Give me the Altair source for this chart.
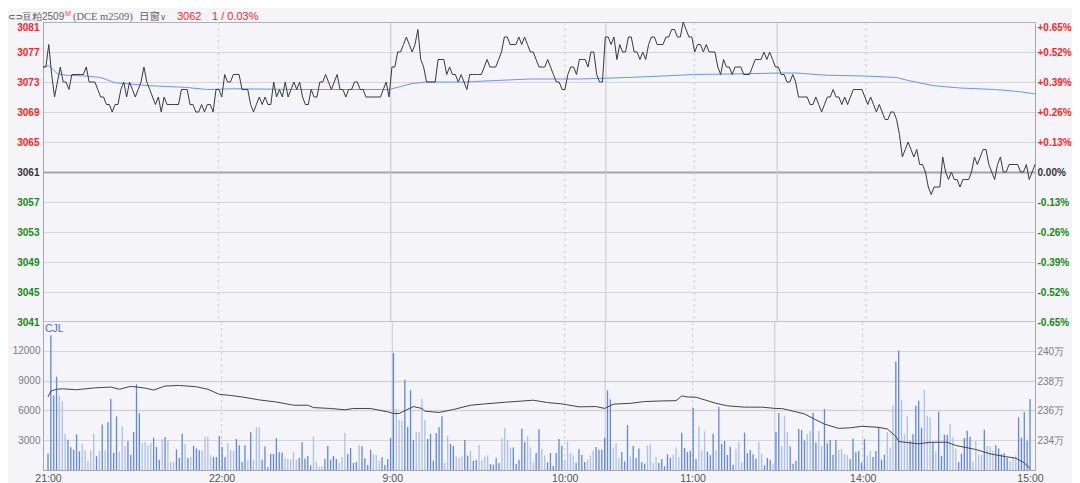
import altair as alt
import pandas as pd

# ---------------- data ----------------
PREV_SETTLE = 3061

# minute closes, 21:00 -> 15:00 (345 bars)
PRICE = [
    3075, 3075, 3078, 3074, 3071, 3073, 3075, 3073, 3073, 3072,
    3074, 3074, 3074, 3074, 3074, 3075, 3073, 3073, 3073, 3072,
    3071, 3071, 3070, 3070, 3069, 3070, 3070, 3072, 3073, 3071,
    3073, 3072, 3071, 3072, 3073, 3075, 3073, 3072, 3071, 3070,
    3071, 3069, 3071, 3070, 3070, 3070, 3070, 3070, 3072, 3072,
    3072, 3070, 3070, 3069, 3069, 3070, 3069, 3070, 3070, 3069,
    3072, 3072, 3071, 3074, 3073, 3073, 3074, 3074, 3074, 3072,
    3072, 3072, 3070, 3069, 3070, 3071, 3070, 3071, 3070, 3070,
    3073, 3071, 3072, 3071, 3073, 3071, 3072, 3073, 3072, 3073,
    3071, 3070, 3070, 3072, 3071, 3071, 3073, 3073, 3074, 3073,
    3072, 3073, 3074, 3072, 3072, 3071, 3072, 3072, 3073, 3073,
    3072, 3072, 3071, 3071, 3071, 3071, 3071, 3071, 3072, 3073,
    3071, 3075, 3075, 3077, 3077, 3078, 3079, 3078, 3077, 3078,
    3080, 3076, 3075, 3073, 3073, 3073, 3073, 3076, 3076, 3076,
    3074, 3075, 3074, 3074, 3073, 3074, 3073, 3072, 3074, 3074,
    3074, 3074, 3074, 3075, 3076, 3075, 3075, 3075, 3076, 3077,
    3079, 3079, 3078, 3078, 3078, 3079, 3078, 3079, 3078, 3077,
    3077, 3076, 3075, 3075, 3075, 3076, 3075, 3074, 3073, 3073,
    3072, 3072, 3074, 3075, 3075, 3074, 3076, 3076, 3076, 3075,
    3077, 3077, 3074, 3073, 3073, 3079, 3079, 3078, 3079, 3076,
    3078, 3077, 3077, 3079, 3079, 3077, 3077, 3076, 3077, 3076,
    3078, 3079, 3079, 3078, 3078, 3078, 3079, 3079, 3080, 3080,
    3079, 3079, 3081, 3080, 3079, 3079, 3077, 3078, 3078, 3077,
    3078, 3077, 3077, 3077, 3075, 3074, 3076, 3075, 3075, 3074,
    3075, 3075, 3075, 3074, 3074, 3074, 3075, 3076, 3076, 3076,
    3077, 3076, 3077, 3076, 3075, 3075, 3074, 3074, 3073, 3073,
    3074, 3073, 3071, 3071, 3071, 3071, 3070, 3070, 3071, 3070,
    3069, 3070, 3071, 3071, 3072, 3071, 3071, 3070, 3071, 3070,
    3071, 3072, 3072, 3072, 3072, 3071, 3070, 3071, 3070, 3069,
    3070, 3069, 3068, 3068, 3069, 3069, 3068, 3066, 3063, 3064,
    3065, 3064, 3063, 3064, 3062, 3062, 3061, 3059, 3058, 3059,
    3059, 3059, 3063, 3061, 3060, 3061, 3060, 3060, 3059, 3060,
    3060, 3060, 3061, 3063, 3062, 3063, 3064, 3064, 3062, 3061,
    3060, 3062, 3063, 3061, 3061, 3062, 3062, 3062, 3062, 3061,
    3061, 3062, 3060, 3061, 3062,
]

# average price line (bar index, price)
AVG_T = [0, 2, 5, 8, 15, 20, 25, 31, 37, 49, 57, 66, 89, 117, 120, 124, 128, 133,
         146, 157, 169, 186, 195, 209, 226, 244, 256, 261, 272, 285, 296, 300, 309,
         318, 330, 339, 344]
AVG_V = [3075.0, 3075.2, 3074.1, 3073.9, 3073.8, 3073.6, 3072.9, 3072.7, 3072.5,
         3072.3, 3072.0, 3072.1, 3072.0, 3072.0, 3072.0, 3072.4, 3072.8, 3073.0,
         3073.0, 3073.2, 3073.4, 3073.4, 3073.5, 3073.7, 3074.0, 3074.1, 3074.2,
         3074.2, 3073.9, 3073.8, 3073.6, 3073.2, 3072.5, 3072.2, 3072.0, 3071.7,
         3071.4]

# volume per minute (lots)
VOL = [
    1650, 13600, 7500, 9400, 7500, 6950, 3660, 3060, 2300, 2050,
    3600, 1880, 2600, 2000, 940, 2000, 3630, 1400, 1950, 4600,
    2000, 4840, 7160, 1720, 5400, 1820, 4430, 2420, 2900, 1510,
    3830, 8640, 5710, 2750, 2820, 2490, 2720, 3260, 2320, 1040,
    3120, 3320, 3020, 810, 810, 2080, 1210, 3660, 2620, 1210,
    1310, 2420, 2180, 1980, 1980, 3360, 3390, 1480, 1310, 1310,
    3430, 2320, 1310, 2720, 2000, 1950, 3120, 2490, 810, 2490,
    1040, 3800, 1040, 4330, 4330, 1040, 2380, 270, 1650, 1610,
    3210, 1800, 1770, 1200, 1100,
    1040, 1810, 1040, 1210, 2790, 1140, 1410, 470, 3390, 810,
    300, 370, 1110, 2420, 1040, 1410, 1110, 710, 1310, 3730,
    1610, 2220, 710, 810, 2520, 2390, 1180, 500, 2050, 1580,
    1510, 910, 1280, 500, 1110, 3230, 11800, 6120, 5040, 4970,
    9100, 4330, 8060, 3020, 3830, 3830, 7220, 5040, 3120, 3660,
    940, 3730, 4300, 5410, 710, 3490, 2620, 2420, 1380, 1210,
    1380, 3020, 1440, 1920, 910, 1010, 2520, 1010, 1340, 1480,
    600, 540, 1180, 710, 3230, 4230, 2990, 2280, 2280, 600,
    1040, 4170, 2820, 3390, 2280,
    770, 1710, 4100, 2150, 1480, 770, 1710, 400, 1710, 3120,
    2450, 1010, 2890, 1710, 1480, 740, 2080, 1510, 810, 1040,
    1480, 1950, 2320, 2050, 2050, 3230, 8030, 7120, 2280, 2690,
    1210, 1810, 870, 4540, 1380, 2420, 1210, 2180, 810, 640,
    2450, 2590, 740, 1340, 710, 1110, 370, 1580, 1240, 1510,
    2280, 1310, 3760, 2220, 1810, 1950, 6250, 1110, 4400, 1980,
    3900, 1850, 1480, 3660, 1980, 6350, 2620, 2920, 1510, 2320,
    540, 2180, 2860, 810, 3760, 1710, 2020, 1580, 1140, 2860,
    1650, 470, 1210, 1040, 640, 3830,
    5750, 2390, 5480, 3830, 2390, 640, 940, 4130, 4030, 2960,
    3630, 3930, 5780, 2760, 3930, 2420, 6150, 2690, 3020, 1510,
    3020, 2020, 2120, 1610, 1480, 1110, 3160, 1780, 1920, 740,
    3120, 1480, 1950, 1310, 1920, 4270, 1040, 1550, 3830, 2250,
    6550, 10950, 12060, 7090, 3600, 5440, 2920, 3600, 6480, 6990,
    4270, 8100, 5480, 5310, 2820, 1880, 5880, 1410, 3560, 3560,
    4670, 3290, 2150, 810, 1650, 3230, 3960, 3360, 840, 2920,
    1510, 1510, 4070, 2420, 2390, 1950, 2490, 2180, 1580, 1680,
    1240, 870, 1310, 1480, 5310, 3260, 5850, 2960, 7160,
]

# bar shade per minute: d = dark blue, l = light blue
VOL_DIR = """
d d d d l l l d d d  d d l l l l l d l d  l d d d d l l l d d
d d d l l l l d d d  l d l l l d d d l d  l d d d l l l l d d
d d d l l l d d d d  l d l l l d d d d d  d d d l l
l l l d d d d d l l  l l d d d d d l l l  d d d d l d d d d l
l l d d d d d l l l  d d d d l l l l d d  d d d d l l d d l l
l d d l d d l l l l  d d d d l l l l d d  d d d l l
l d d l l d d d d d  d l l l l d d d d l  l l d d d d d d l l
l d d d l d d d d d  l l l l d d d d d l  l l d d d d d d l l
l d d d l d d d d d  d l l l d d d d d l  l d d d l d
d l l l d d d d d d  l l d d l l d d d d  d l l l l d d d d d
d l l d d d d d l l  l d d l l l d d d d  d l l l d l d d d d
l l l d d d d d l l  l l d l l l d d d d  d l l l d d d d d
""".split()

# open interest line (bar index, 10k lots)
OI_T = [0, 1, 3, 5, 10, 16, 22, 25, 29, 34, 37, 41, 46, 52, 56, 60, 64, 68, 74, 80,
        86, 91, 93, 99, 104, 107, 113, 119, 121, 123, 128, 131, 132, 137, 142, 148,
        153, 160, 165, 170, 175, 180, 186, 192, 195, 198, 204, 209, 215, 220, 222,
        224, 227, 234, 238, 244, 250, 255, 257, 261, 265, 269, 272, 277, 281, 285,
        291, 294, 297, 298, 305, 309, 315, 318, 325, 330, 335, 339, 342, 344]
OI_V = [236.95, 237.35, 237.47, 237.50, 237.44, 237.56, 237.62, 237.47, 237.67,
        237.55, 237.42, 237.69, 237.73, 237.64, 237.47, 237.13, 237.05, 236.95,
        236.75, 236.61, 236.39, 236.39, 236.23, 236.17, 236.08, 236.17, 236.17,
        235.94, 235.83, 235.83, 236.30, 236.17, 235.99, 235.90, 236.10, 236.39,
        236.48, 236.59, 236.66, 236.73, 236.57, 236.48, 236.28, 236.30, 236.17,
        236.46, 236.52, 236.64, 236.68, 236.70, 237.02, 236.95, 236.93, 236.52,
        236.35, 236.26, 236.26, 236.17, 236.17, 235.99, 235.80, 235.40, 235.11,
        234.82, 234.86, 234.96, 234.89, 234.78, 234.28, 233.93, 233.77, 233.88,
        233.88, 233.66, 233.39, 233.10, 232.92, 232.80, 232.49, 232.09]

PRICE_TICKS = [3041, 3045, 3049, 3053, 3057, 3061, 3065, 3069, 3073, 3077, 3081]
VOL_TICKS = [3000, 6000, 9000, 12000]
OI_TICKS = [234, 236, 238, 240]
TIME_POS = [0, 60.8, 120.6, 181.0, 225.8, 285.4, 344]
TIME_LABELS = ["21:00", "22:00", "9:00", "10:00", "11:00", "14:00", "15:00"]
SESSION_BREAKS = [120.6, 195.2, 254.6]
HOUR_MARKS = [60.8, 181.0, 225.8, 285.4]
HEADER = ["⊂⊃", "豆粕2509", "M", "(DCE m2509)", "日窗", "∨", "3062", "1 / 0.03%"]
PANEL_LABEL = "CJL"

# ---------------- styling ----------------
BG = "#f4f4f9"
RED = "#ff1f1f"
GREEN = "#138a13"
FONT = "Liberation Sans"
W, H1, H2 = 992, 300, 148

n = min(len(PRICE), len(VOL), len(VOL_DIR))
df = pd.DataFrame({"t": list(range(n)), "price": PRICE[:n], "vol": VOL[:n], "dir": VOL_DIR[:n]})
avg_df = pd.DataFrame({"t": AVG_T, "v": AVG_V})
oi_df = pd.DataFrame({"t": OI_T, "v": OI_V})
solid_df = pd.DataFrame({"t": SESSION_BREAKS})
dash_df = pd.DataFrame({"t": HOUR_MARKS})

xs = alt.Scale(domain=[0, 344], nice=False, zero=False)
ys_price = alt.Scale(domain=[PRICE_TICKS[0], PRICE_TICKS[-1]], nice=False, zero=False)
ys_vol = alt.Scale(domain=[0, 14924], nice=False, zero=True)
ys_oi = alt.Scale(domain=[232, 242.03], nice=False, zero=False)

lab_color = {"condition": [{"test": f"datum.value > {PREV_SETTLE}", "value": RED},
                           {"test": f"datum.value < {PREV_SETTLE}", "value": GREEN}],
             "value": "#333333"}
lab_base = {"condition": {"test": f"datum.value == {PRICE_TICKS[-1]}", "value": "top"},
            "value": "middle"}
grid_color = {"condition": [{"test": f"datum.value == {PREV_SETTLE}", "value": "#a4a4aa"},
                            {"test": f"datum.value == {PRICE_TICKS[0]}", "value": "#8e8e94"},
                            {"test": f"datum.value == {PRICE_TICKS[-1]}", "value": "#b0b0b6"}],
              "value": "#d6d6dc"}
grid_width = {"condition": {"test": f"datum.value == {PREV_SETTLE} || datum.value == {PRICE_TICKS[0]}",
                            "value": 2}, "value": 1}

pct_expr = (f"datum.value > {PREV_SETTLE} ? '+' + format((datum.value - {PREV_SETTLE}) / {PREV_SETTLE} * 100, '.2f') + '%' : "
            f"datum.value < {PREV_SETTLE} ? '-' + format(({PREV_SETTLE} - datum.value) / {PREV_SETTLE} * 100, '.2f') + '%' : '0.00%'")

price_left = alt.Axis(values=PRICE_TICKS, title=None, orient="left", ticks=False, labelPadding=4,
                      format="d",
                      labelFont=FONT, labelFontSize=10, labelFontWeight="bold",
                      labelColor=lab_color, labelBaseline=lab_base, labelOverlap=False,
                      grid=True, gridColor=grid_color, gridWidth=grid_width,
                      domainColor="#a6a6ac")
price_right = alt.Axis(values=PRICE_TICKS, title=None, orient="right", ticks=False, labelPadding=2,
                       labelFont=FONT, labelFontSize=10, labelFontWeight="bold",
                       labelColor=lab_color, labelBaseline=lab_base, labelOverlap=False,
                       labelExpr=pct_expr, grid=False, domainColor="#a6a6ac")

time_expr = ""
for p, lab in zip(TIME_POS, TIME_LABELS):
    time_expr += f"abs(datum.value - {p}) < 1 ? '{lab}' : "
time_expr += "''"
x_axis = alt.Axis(values=TIME_POS, labelExpr=time_expr, title=None, orient="bottom", ticks=False,
                  labelPadding=3, labelFont=FONT, labelFontSize=10.5, labelColor="#555555",
                  labelFlush=False, labelOverlap=False, grid=False, domainColor="#a6a6ac")

vol_grid_w = {"condition": {"test": "datum.value == 6000 || datum.value == 9000", "value": 1.6},
              "value": 1}
vol_left = alt.Axis(values=VOL_TICKS, title=None, orient="left", ticks=False, labelPadding=3,
                    format="d",
                    labelFont=FONT, labelFontSize=10, labelColor="#7c7c7c", labelOverlap=False,
                    grid=True, gridColor="#d4d4da", gridWidth=vol_grid_w, domainColor="#a6a6ac")
oi_right = alt.Axis(values=OI_TICKS, title=None, orient="right", ticks=False, labelPadding=2,
                    labelFont=FONT, labelFontSize=10, labelColor="#7c7c7c", labelOverlap=False,
                    labelExpr="datum.value + '万'", grid=False, domainColor="#a6a6ac")

# ---------------- price panel ----------------
x_none = alt.X("t:Q", scale=xs, axis=None)
rules_solid_p = alt.Chart(solid_df).mark_rule(color="#c6c6cc", strokeWidth=1).encode(x=x_none)
rules_dash_p = alt.Chart(dash_df).mark_rule(color="#cdcdd4", strokeWidth=1, strokeDash=[3, 3]).encode(x=x_none)
avg_line = alt.Chart(avg_df).mark_line(color="#6f93ee", strokeWidth=1).encode(
    x=x_none, y=alt.Y("v:Q", scale=ys_price, axis=price_left))
price_line = alt.Chart(df).mark_line(color="#3a3a3a", strokeWidth=1).encode(
    x=x_none, y=alt.Y("price:Q", scale=ys_price, axis=price_right))

header_specs = [
    # text index, x (px from plot left), color, font, size, weight, y
    (0, -35, "#666666", "DejaVu Sans", 9, "bold", -5),
    (1, -21, "#666666", FONT, 10, "normal", -5),
    (2, 22, "#ff3b3b", FONT, 7, "normal", -8),
    (3, 30, "#666666", "Liberation Serif", 10.5, "normal", -5),
    (4, 96, "#666666", "Noto Sans CJK SC", 10.5, "normal", -5),
    (5, 117, "#666666", "DejaVu Sans", 8.5, "normal", -5),
    (6, 134, RED, FONT, 11, "normal", -5),
    (7, 169, RED, FONT, 11, "normal", -5),
]
header_layers = []
for idx, hx, col, fnt, fs, fw, hy in header_specs:
    header_layers.append(
        alt.Chart(pd.DataFrame({"s": [HEADER[idx]]})).mark_text(
            align="left", baseline="middle", color=col, font=fnt, fontSize=fs, fontWeight=fw
        ).encode(x=alt.value(hx), y=alt.value(hy), text="s:N")
    )

price_panel = alt.layer(rules_solid_p, rules_dash_p, avg_line, price_line, *header_layers).resolve_scale(
    y="independent").properties(width=W, height=H1)

# ---------------- volume panel ----------------
x_ax = alt.X("t:Q", scale=xs, axis=x_axis)
rules_solid_v = alt.Chart(solid_df).mark_rule(color="#c6c6cc", strokeWidth=1).encode(x=x_ax)
rules_dash_v = alt.Chart(dash_df).mark_rule(color="#cdcdd4", strokeWidth=1, strokeDash=[3, 3]).encode(x=x_ax)
bars = alt.Chart(df).mark_bar(size=1.3).encode(
    x=x_ax,
    y=alt.Y("vol:Q", scale=ys_vol, axis=vol_left),
    color=alt.Color("dir:N", scale=alt.Scale(domain=["d", "l"], range=["#5f86e8", "#abbff2"]), legend=None),
)
oi_line = alt.Chart(oi_df).mark_line(color="#444444", strokeWidth=1).encode(
    x=x_ax, y=alt.Y("v:Q", scale=ys_oi, axis=oi_right))
cjl = alt.Chart(pd.DataFrame({"s": [PANEL_LABEL]})).mark_text(
    align="left", baseline="middle", color="#3f6fe0", font=FONT, fontSize=10.5
).encode(x=alt.value(2), y=alt.value(7), text="s:N")

vol_panel = alt.layer(rules_solid_v, rules_dash_v, bars, oi_line, cjl).resolve_scale(
    y="independent").properties(width=W, height=H2)

chart = alt.vconcat(price_panel, vol_panel, spacing=0, bounds="flush").properties(
    padding={"left": 0, "top": 2, "right": 0, "bottom": 0},
    background=BG,
).configure_view(stroke=None, fill=BG)

chart.save("out.html", embed_options={"renderer": "svg", "actions": False})
